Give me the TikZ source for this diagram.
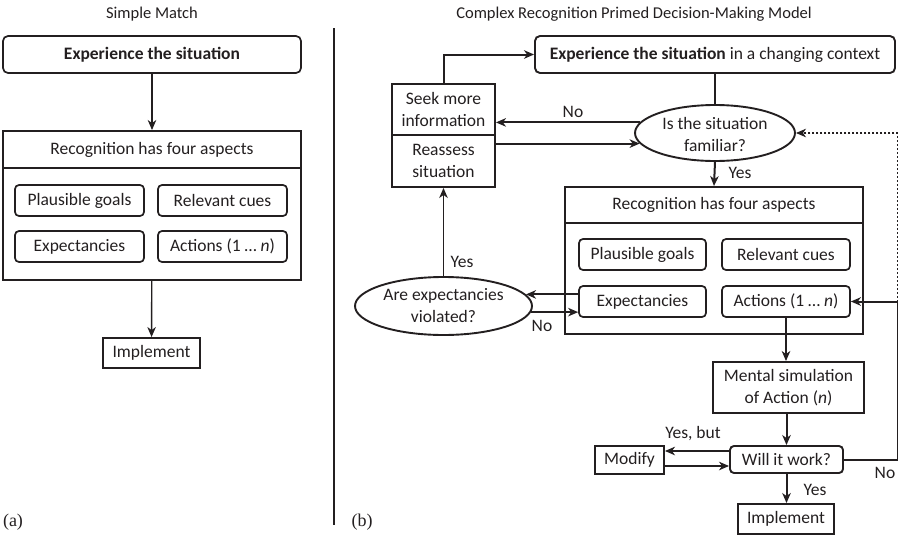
\documentclass[tikz,border=0pt]{standalone}
\usepackage{fontspec}
\setmainfont{Carlito}
\newfontfamily\labserif{Liberation Serif}
\usetikzlibrary{arrows.meta,shapes.geometric,calc}
\definecolor{ink}{HTML}{231F20}
\newcommand\bodyfs{\fontsize{17.5}{22}\selectfont}
\newcommand\titlefs{\fontsize{16.5}{20}\selectfont}

\begin{document}
\begin{tikzpicture}[x=1pt,y=-1pt,
  every node/.style={text=ink, font=\bodyfs},
  box/.style={draw=ink, line width=1.9pt, inner sep=0pt, align=center},
  rbox/.style={box, line width=1.7pt, rounded corners=4pt},
  oval/.style={ellipse, draw=ink, line width=1.9pt, inner sep=0pt},
  arr/.style={draw=ink, line width=2pt, -{Stealth[length=10pt,width=8.5pt,inset=3pt]}},
  thinarr/.style={arr, line width=1.4pt},
  wire/.style={draw=ink, line width=2pt},
  lbl/.style={inner sep=0pt, align=center},
]
\useasboundingbox (0,0) rectangle (898,536);

% ---------------- (a) Simple match ----------------
\node[lbl, font=\titlefs] (ltitle) at (152,14) {Simple Match};
\node[rbox, rounded corners=5pt, minimum width=298pt, minimum height=37pt,
      font=\bodyfs\bfseries] (lexp) at (152,54.5) {Experience the situation};
\node[box, minimum width=298pt, minimum height=37pt] (lhead) at (152,149.5)
      {Recognition has four aspects};
\node[box, minimum width=298pt, minimum height=112pt] (lbody) at (152,224) {};
\node[rbox, minimum width=129pt, minimum height=31pt] (lgoals) at (79.5,200.5) {Plausible goals};
\node[rbox, minimum width=129pt, minimum height=31pt] (lcues)  at (222.5,200.5) {Relevant cues};
\node[rbox, minimum width=129pt, minimum height=31pt] (lexpct) at (79.5,246.5) {Expectancies};
\node[rbox, minimum width=129pt, minimum height=31pt] (lact)   at (222.5,246.5) {Actions (1 … \textit{n})};
\node[box, minimum width=97pt, minimum height=30pt] (limpl) at (151.5,353) {Implement};

\draw[thinarr] (lexp) -- (lhead);
\draw[thinarr] (lbody) -- (limpl);

\node[lbl, font=\labserif\fontsize{18}{20}\selectfont] (la) at (13,522) {(a)};

% divider between the two panels
\coordinate (dtop) at (334,28);
\coordinate (dbot) at (334,525);
\draw[ink, line width=1.2pt] (dtop) -- (dbot);

% ---------------- (b) Complex RPD model ----------------
\node[lbl, font=\titlefs] (rtitle) at (634,14) {Complex Recognition Primed Decision-Making Model};
\node[rbox, line width=1.9pt, rounded corners=5pt, minimum width=360pt, minimum height=37pt] (rexp) at (715,54.5)
      {\textbf{Experience the situation} in a changing context};

\node[box, minimum width=103pt, minimum height=51pt] (seek)  at (443.5,109.5) {Seek more\\information};
\node[box, minimum width=103pt, minimum height=52pt] (reass) at (443.5,161) {Reassess\\situation};

\node[oval, minimum width=160pt, minimum height=56pt] (fam) at (715,133) {};
\node[lbl] (famtxt) at (715,134.5) {Is the situation\\familiar?};

\node[box, minimum width=298pt, minimum height=36pt] (rhead) at (714,205) {Recognition has four aspects};
\node[box, minimum width=298pt, minimum height=111pt] (rbody) at (714,278.5) {};
\node[rbox, minimum width=127pt, minimum height=31pt] (rgoals) at (642.5,254.5) {Plausible goals};
\node[rbox, minimum width=128pt, minimum height=31pt] (rcues)  at (786,254.5) {Relevant cues};
\node[rbox, minimum width=127pt, minimum height=31pt] (rexpct) at (642.5,301.5) {Expectancies};
\node[rbox, minimum width=128pt, minimum height=31pt] (ract)   at (786,301.5) {Actions (1 … \textit{n})};

\node[oval, minimum width=177pt, minimum height=58pt] (viol) at (443.5,306) {};
\node[lbl] (violtxt) at (443.5,305.5) {Are expectancies\\violated?};

\node[box, minimum width=151pt, minimum height=51pt] (mental) at (788.5,387.5) {Mental simulation\\of Action (\textit{n})};
\node[rbox, line width=1.9pt, minimum width=113pt, minimum height=27pt] (will) at (786.5,459.5) {Will it work?};
\node[box, minimum width=69pt, minimum height=28pt] (modify) at (629.5,460) {Modify};
\node[box, minimum width=96pt, minimum height=30pt] (rimpl) at (786,519) {Implement};

% connectors
\draw[arr] (seek.north) |- (rexp.west);
\draw[wire] (rexp.south) -- (fam.north);
\draw[arr] (fam.172.4) -- (fam.172.4 -| seek.east);
\draw[arr] (reass.east |- fam.188.5) -- (fam.188.5);
\draw[arr] (fam.south) -- (rhead.north);
\draw[arr] (rexpct.west |- viol.8.5) -- (viol.8.5);
\draw[arr] (viol.356.7) -- (viol.356.7 -| rexpct.west);
\draw[arr, line width=1.5pt] (viol.north) -- (viol.north |- reass.south);
\draw[arr] (ract.south) -- (ract.south |- mental.north);
\draw[arr] (will.north |- mental.south) -- (will.north);

\coordinate (wa) at ($(will.west)+(0,-8.5)$);
\coordinate (wb) at ($(will.west)+(0,6.5)$);
\draw[arr] (wa) -- (wa -| modify.east);
\draw[arr] (wb -| modify.east) -- (wb);
\draw[arr] (will.south) -- (will.south |- rimpl.north);

\path (will.east) ++(54,0) coordinate (loopb);
\coordinate (loopm) at (loopb |- ract.east);
\draw[arr] (will.east) -- (loopb) -- (loopm) -- (ract.east);
\draw[arr, dotted, line width=1.6pt] (loopm) |- (fam.east);

% branch labels
\node[lbl] (lno1)  at (573,112) {No};
\node[lbl] (lyes1) at (740,173) {Yes};
\node[lbl] (lyes2) at (462,262) {Yes};
\node[lbl] (lno2)  at (542,326) {No};
\node[lbl] (lybut) at (693,434) {Yes, but};
\node[lbl] (lyes3) at (815,490) {Yes};
\node[lbl] (lno3)  at (885,473) {No};

\node[lbl, font=\labserif\fontsize{18}{20}\selectfont] (lb) at (362,522) {(b)};
\end{tikzpicture}
\end{document}
